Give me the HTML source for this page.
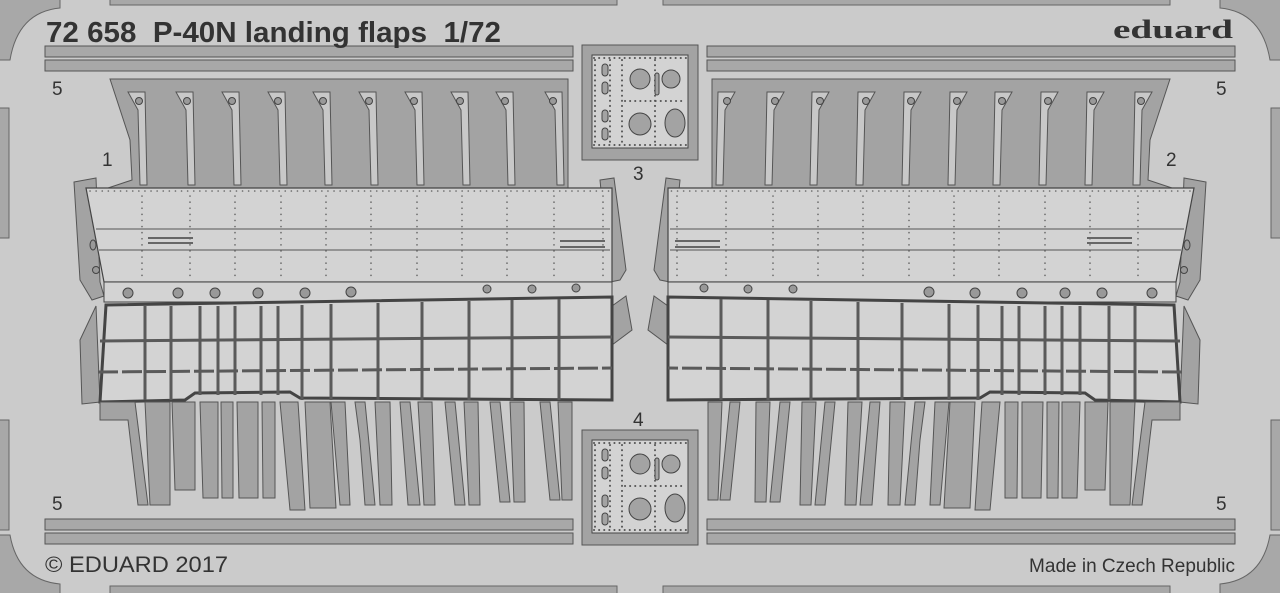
<!DOCTYPE html>
<html><head><meta charset="utf-8"><style>
html,body{margin:0;padding:0;background:#cbcbcb;}
svg{display:block;}
text{font-family:"Liberation Sans",sans-serif;fill:#333;}
</style></head><body>
<svg width="1280" height="593" viewBox="0 0 1280 593" xmlns="http://www.w3.org/2000/svg">
<defs>
<g id="half">
  <rect x="45" y="46" width="528" height="11" fill="#a8a8a8" stroke="#555" stroke-width="1"/>
  <rect x="45" y="60" width="528" height="11" fill="#a8a8a8" stroke="#555" stroke-width="1"/>
  <rect x="45" y="519" width="528" height="11" fill="#a8a8a8" stroke="#555" stroke-width="1"/>
  <rect x="45" y="533" width="528" height="11" fill="#a8a8a8" stroke="#555" stroke-width="1"/>
  <rect x="110" y="-2" width="507" height="7" fill="#a8a8a8" stroke="#666"/>
  <rect x="110" y="586" width="507" height="9" fill="#a8a8a8" stroke="#666"/>
  <rect x="-2" y="108" width="11" height="130" fill="#a8a8a8" stroke="#666"/>
  <rect x="-2" y="420" width="11" height="110" fill="#a8a8a8" stroke="#666"/>
  <path d="M-2,-2 H60 V8 Q18,12 10,60 H-2 Z" fill="#a8a8a8" stroke="#666"/>
  <path d="M-2,595 H60 V584 Q18,580 10,535 H-2 Z" fill="#a8a8a8" stroke="#666"/>
  <path d="M110,79 H568 V188 H108 L132,180 L130,140 Z" fill="#a3a3a3" stroke="#555"/>
  <g fill="#c8c8c8" stroke="#555">
    <path d="M128,92 H145 L147,185 H140 L138,110 Z"/>
    <path d="M176,92 H193 L195,185 H188 L186,110 Z"/>
    <path d="M222,92 H239 L241,185 H234 L232,110 Z"/>
    <path d="M268,92 H285 L287,185 H280 L278,110 Z"/>
    <path d="M313,92 H330 L332,185 H325 L323,110 Z"/>
    <path d="M359,92 H376 L378,185 H371 L369,110 Z"/>
    <path d="M405,92 H422 L424,185 H417 L415,110 Z"/>
    <path d="M451,92 H468 L470,185 H463 L461,110 Z"/>
    <path d="M496,92 H513 L515,185 H508 L506,110 Z"/>
    <path d="M545,92 H562 L564,185 H557 L555,110 Z"/>
  </g>
  <g fill="#999" stroke="#444">
    <circle cx="139" cy="101" r="3.5"/><circle cx="187" cy="101" r="3.5"/><circle cx="232" cy="101" r="3.5"/><circle cx="278" cy="101" r="3.5"/><circle cx="323" cy="101" r="3.5"/><circle cx="369" cy="101" r="3.5"/><circle cx="414" cy="101" r="3.5"/><circle cx="460" cy="101" r="3.5"/><circle cx="505" cy="101" r="3.5"/><circle cx="553" cy="101" r="3.5"/>
  </g>
  <path d="M74,182 L96,178 L100,282 L104,296 L92,300 L80,280 Z" fill="#a3a3a3" stroke="#555"/>
  <path d="M600,180 L614,178 L626,270 L620,280 L610,282 Z" fill="#a3a3a3" stroke="#555"/>
  <path d="M80,340 L96,306 L100,402 L82,404 Z" fill="#a3a3a3" stroke="#555"/>
  <path d="M612,306 L626,296 L632,330 L612,345 Z" fill="#a3a3a3" stroke="#555"/>
  <path d="M86,188 H612 V282 H104 Z" fill="#d3d3d3" stroke="#444" stroke-width="1.2"/>
  <g stroke="#555" stroke-width="1">
    <line x1="96" y1="229" x2="610" y2="229"/><line x1="99" y1="250" x2="610" y2="250"/>
  </g>
  <g stroke="#666" stroke-width="1.6" stroke-dasharray="0.1 6" stroke-linecap="round">
    <line x1="90" y1="191" x2="610" y2="191"/>
    <line x1="142" y1="196" x2="142" y2="280"/><line x1="190" y1="196" x2="190" y2="280"/><line x1="235" y1="196" x2="235" y2="280"/><line x1="281" y1="196" x2="281" y2="280"/><line x1="326" y1="196" x2="326" y2="280"/><line x1="371" y1="196" x2="371" y2="280"/><line x1="417" y1="196" x2="417" y2="280"/><line x1="462" y1="196" x2="462" y2="280"/><line x1="507" y1="196" x2="507" y2="280"/><line x1="554" y1="196" x2="554" y2="280"/><line x1="603" y1="196" x2="603" y2="280"/>
  </g>
  <rect x="148" y="237" width="45" height="2" fill="#666"/><rect x="148" y="242" width="45" height="2" fill="#666"/>
  <rect x="560" y="240" width="45" height="2" fill="#666"/><rect x="560" y="246" width="45" height="2" fill="#666"/>
  <ellipse cx="93" cy="245" rx="3" ry="5" fill="#999" stroke="#444"/><circle cx="96" cy="270" r="3.5" fill="#999" stroke="#444"/>
  <rect x="104" y="282" width="508" height="20" fill="#d3d3d3" stroke="#444"/>
  <g fill="#999" stroke="#444">
    <circle cx="128" cy="293" r="5"/><circle cx="178" cy="293" r="5"/><circle cx="215" cy="293" r="5"/><circle cx="258" cy="293" r="5"/><circle cx="305" cy="293" r="5"/><circle cx="351" cy="292" r="5"/><circle cx="487" cy="289" r="4"/><circle cx="532" cy="289" r="4"/><circle cx="576" cy="288" r="4"/>
  </g>
  <path d="M106,305 L612,297 V400 L300,398 L290,392 L195,393 L185,400 L100,402 Z" fill="#d3d3d3" stroke="#444" stroke-width="3"/>
  <g stroke="#5a5a5a" stroke-width="3">
    <line x1="100" y1="341" x2="612" y2="337"/>
    <line x1="98" y1="372" x2="612" y2="368" stroke-dasharray="20 4"/>
    <line x1="145" y1="306" x2="145" y2="400"/><line x1="171" y1="306" x2="171" y2="400"/><line x1="200" y1="306" x2="200" y2="395"/><line x1="218" y1="306" x2="218" y2="395"/><line x1="235" y1="306" x2="235" y2="395"/><line x1="261" y1="306" x2="261" y2="395"/><line x1="278" y1="306" x2="278" y2="395"/><line x1="302" y1="305" x2="302" y2="400"/><line x1="331" y1="304" x2="331" y2="400"/><line x1="378" y1="303" x2="378" y2="400"/><line x1="422" y1="302" x2="422" y2="400"/><line x1="469" y1="301" x2="469" y2="400"/><line x1="512" y1="300" x2="512" y2="400"/><line x1="559" y1="299" x2="559" y2="400"/>
  </g>
  <g fill="#a3a3a3" stroke="#555">
    <path d="M100,402 H135 L148,505 H138 L128,420 H100 Z"/>
    <path d="M145,402 H170 V505 H150 Z"/>
    <path d="M172,402 H195 V490 H175 Z"/>
    <path d="M200,402 H218 V498 H203 Z"/>
    <path d="M221,402 H233 V498 H222 Z"/>
    <path d="M237,402 H258 V498 H239 Z"/>
    <path d="M262,402 H275 V498 H263 Z"/>
    <path d="M280,402 H298 L305,510 H290 Z"/>
    <path d="M305,402 H330 L336,508 H310 Z"/>
    <path d="M331,402 H345 L350,505 H340 Z"/>
    <path d="M355,402 H365 L375,505 H365 L360,440 Z"/>
    <path d="M375,402 H390 L392,505 H380 Z"/>
    <path d="M400,402 H410 L420,505 H408 Z"/>
    <path d="M418,402 H432 L435,505 H424 Z"/>
    <path d="M445,402 H455 L465,505 H455 Z"/>
    <path d="M464,402 H478 L480,505 H469 Z"/>
    <path d="M490,402 H500 L510,502 H500 Z"/>
    <path d="M510,402 H524 L525,502 H514 Z"/>
    <path d="M540,402 H550 L560,500 H550 Z"/>
    <path d="M558,402 H572 L572,500 H562 Z"/>
  </g>
  <rect x="582" y="45" width="116" height="115" fill="#a3a3a3" stroke="#555"/>
  <rect x="592" y="55" width="96" height="93" fill="#d3d3d3" stroke="#444"/>
</g>
<g id="plate">
  <g stroke="#555" stroke-width="2" stroke-dasharray="0.1 5" stroke-linecap="round" fill="none">
    <line x1="594" y1="58" x2="686" y2="58"/><line x1="594" y1="145" x2="686" y2="145"/>
    <line x1="595" y1="60" x2="595" y2="144"/><line x1="610" y1="60" x2="610" y2="144"/><line x1="622" y1="60" x2="622" y2="144"/><line x1="655" y1="60" x2="655" y2="144"/>
    <line x1="625" y1="101" x2="685" y2="101"/>
  </g>
  <g fill="#a3a3a3" stroke="#444">
    <circle cx="640" cy="79" r="10"/><circle cx="671" cy="79" r="9"/><circle cx="640" cy="124" r="11"/><ellipse cx="675" cy="123" rx="10" ry="14"/>
    <rect x="602" y="64" width="6" height="12" rx="3"/><rect x="602" y="82" width="6" height="12" rx="3"/><rect x="602" y="110" width="6" height="12" rx="3"/><rect x="602" y="128" width="6" height="12" rx="3"/><rect x="655" y="73" width="4" height="22" rx="2"/>
  </g>
</g>
</defs>
<rect width="1280" height="593" fill="#cbcbcb"/>
<use href="#half"/>
<g transform="translate(1280,0) scale(-1,1)"><use href="#half"/></g>
<use href="#plate"/>
<g transform="translate(0,385)">
  <rect x="582" y="45" width="116" height="115" fill="#a3a3a3" stroke="#555"/>
  <rect x="592" y="55" width="96" height="93" fill="#d3d3d3" stroke="#444"/>
  <use href="#plate"/>
</g>
<text x="46" y="42" font-size="29" font-weight="bold" style="white-space:pre" textLength="455" lengthAdjust="spacingAndGlyphs">72 658  P-40N landing flaps  1/72</text>
<text x="1113" y="38" font-size="26" font-weight="bold" textLength="120" lengthAdjust="spacingAndGlyphs" style="font-family:'Liberation Serif',serif">eduard</text>
<text x="52" y="95" font-size="19">5</text>
<text x="1216" y="95" font-size="19">5</text>
<text x="102" y="166" font-size="19">1</text>
<text x="1166" y="166" font-size="19">2</text>
<text x="633" y="180" font-size="19">3</text>
<text x="633" y="426" font-size="19">4</text>
<text x="52" y="510" font-size="19">5</text>
<text x="1216" y="510" font-size="19">5</text>
<text x="45" y="572" font-size="22" textLength="183" lengthAdjust="spacingAndGlyphs">© EDUARD 2017</text>
<text x="1235" y="572" font-size="19" text-anchor="end">Made in Czech Republic</text>
</svg>
</body></html>
